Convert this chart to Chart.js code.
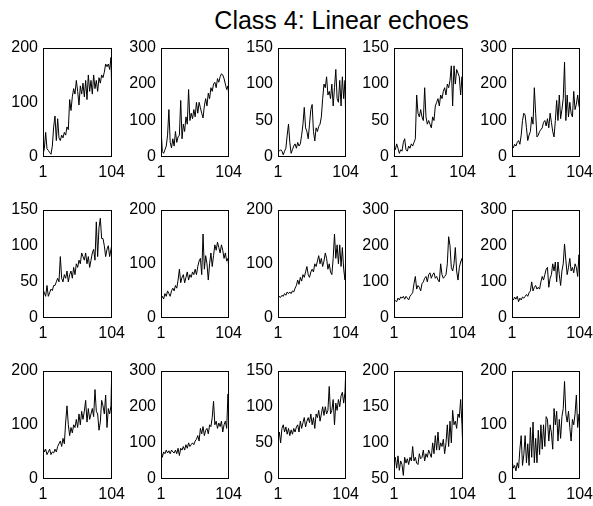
<!DOCTYPE html>
<html>
<head>
<meta charset="utf-8">
<script src="https://cdn.jsdelivr.net/npm/chart.js@4.4.1/dist/chart.umd.min.js"></script>
<style>
  body { margin: 0; background: #fff; }
  #wrap { position: relative; width: 593px; height: 506px; overflow: hidden; }
  #title { position: absolute; left: 0; width: 683px; top: 8px; text-align: center;
           font: 25px "Liberation Sans", Arial, sans-serif; line-height: 25px; color: #000; }
  canvas { position: absolute; }
</style>
</head>
<body>
<div id="wrap">
  <div id="title">Class 4: Linear echoes</div>
</div>
<script>
// sample positions (time index)
const xIdx = [1,3,5,7,9,11,13,15,17,19,21,23,25,27,29,31,33,35,37,39,41,43,45,47,49,51,
  53,55,57,59,61,63,65,67,69,71,73,75,77,79,81,83,85,87,89,91,93,95,97,99,101,103,104];

// series (row by row)
const r1c1 = [5,15,45,15,12,8,5,20,55,75,30,70,35,30,40,35,45,40,55,50,105,85,110,125,115,140,
  120,95,130,115,135,110,140,105,150,120,140,115,150,125,140,120,145,135,150,145,155,170,165,170,160,182,125];
const r1c2 = [80,15,10,20,30,60,130,40,25,50,30,70,40,55,60,155,50,90,70,110,90,185,100,120,105,130,
  110,150,120,150,135,120,107,140,160,140,175,160,190,180,200,205,190,215,205,220,228,225,215,200,185,195,170];
const r1c3 = [10,8,10,8,3,8,12,30,45,20,5,10,15,18,12,20,15,18,30,45,68,40,35,25,45,65,
  72,35,22,40,35,42,45,55,80,100,95,110,85,90,80,100,70,95,120,80,75,105,70,110,80,105,55];
const r1c4 = [15,10,18,12,5,10,8,20,25,10,8,15,12,18,15,20,25,85,60,55,65,55,50,95,55,45,
  50,45,40,55,50,70,75,80,70,85,80,90,95,85,100,95,105,125,70,125,100,120,115,110,85,110,95];
const r1c5 = [30,25,35,30,40,45,35,60,100,120,115,80,45,60,70,110,90,190,120,55,60,70,75,80,95,100,
  85,105,80,120,95,70,55,100,155,100,170,105,130,160,260,100,170,110,150,120,110,180,130,145,170,140,135];

const r2c1 = [40,35,30,45,30,35,40,38,45,45,50,55,50,85,55,50,60,55,65,50,60,65,55,70,60,75,
  70,80,75,90,85,80,90,75,85,70,80,90,95,80,133,85,125,138,110,110,100,85,95,100,85,95,100];
const r2c2 = [35,40,35,45,40,50,45,40,50,55,50,60,55,70,90,65,75,80,65,75,85,70,80,75,85,80,
  90,80,95,105,110,80,155,90,115,100,70,100,120,95,115,135,125,140,130,120,135,125,110,120,105,110,95];
const r2c3 = [35,40,38,42,40,45,42,48,45,48,45,50,48,55,60,70,62,75,68,80,75,85,95,80,75,85,
  90,85,100,95,105,115,100,110,95,105,120,110,90,100,85,80,110,155,110,135,100,135,95,130,90,70,110];
const r2c4 = [50,48,45,55,50,58,55,60,52,60,55,50,60,65,70,95,115,80,90,85,75,95,100,110,115,100,
  120,125,110,120,125,110,115,105,100,150,120,110,115,120,150,225,200,140,130,150,195,130,105,140,155,165,145];
const r2c5 = [55,50,58,52,60,45,55,50,58,55,60,65,60,70,75,100,75,85,90,80,85,80,100,115,105,120,
  135,140,85,110,120,150,130,155,100,155,120,90,130,150,205,160,120,140,165,130,140,125,150,140,115,175,120];

const r3c1 = [60,50,55,45,50,55,45,50,48,55,50,60,65,70,60,75,65,105,135,100,80,95,85,100,95,110,
  95,120,100,125,110,125,145,105,130,110,120,130,115,165,125,120,90,105,145,135,120,155,95,130,120,135,195];
const r3c2 = [80,60,75,70,80,72,78,70,80,75,72,80,70,85,65,85,80,90,80,95,85,100,90,95,100,95,
  105,110,120,105,140,125,145,120,135,140,125,150,145,170,215,150,160,140,155,145,160,130,150,160,140,235,180];
const r3c3 = [55,65,50,70,75,65,72,62,70,60,68,62,70,65,72,75,65,80,70,78,85,72,80,85,78,90,
  75,85,70,90,85,95,80,90,100,88,100,90,95,128,90,95,110,75,105,95,110,100,115,120,105,120,145];
const r3c4 = [76,80,65,82,62,75,70,55,80,72,78,70,80,75,95,75,80,72,70,85,78,80,90,75,85,80,
  90,85,80,100,85,110,90,115,90,100,95,105,85,100,125,95,130,100,145,125,130,120,140,135,160,125,100];
const r3c5 = [35,20,25,15,30,20,55,80,25,45,80,30,65,25,95,40,105,30,75,30,90,45,100,55,100,60,
  115,110,70,100,85,55,130,100,125,70,110,75,115,130,180,120,105,125,95,70,110,100,120,155,95,120,115];

// y axis ranges [min, max, step]
const yRanges = [
  [0,200,100],[0,300,100],[0,150,50],[0,150,50],[0,300,100],
  [0,150,50],[0,200,100],[0,200,100],[0,300,100],[0,300,100],
  [0,200,100],[0,300,100],[0,150,50],[50,200,50],[0,200,100]
];
const xTicks = [1, 104];

const series = [r1c1,r1c2,r1c3,r1c4,r1c5, r2c1,r2c2,r2c3,r2c4,r2c5, r3c1,r3c2,r3c3,r3c4,r3c5];

// panel boxes in the page
const colL = [43, 161, 278, 394, 512];
const colW = [70, 69, 69, 70, 69];
const rowT = [45, 207, 368];
const rowH = [112, 111, 111];

const FONT = '"Liberation Sans", Arial, sans-serif';
const PADL = 45, PADT = 12, PADR = 18, PADB = 30;

// draws the full box around the plot area
const boxPlugin = {
  id: 'box',
  afterDraw(chart) {
    const a = chart.chartArea, ctx = chart.ctx;
    ctx.save();
    ctx.strokeStyle = '#000';
    ctx.lineWidth = 1;
    ctx.strokeRect(Math.round(a.left) + 0.5, Math.round(a.top) + 0.5,
      Math.round(a.right - a.left) - 1, Math.round(a.bottom - a.top) - 1);
    ctx.restore();
  }
};

const wrap = document.getElementById('wrap');

series.forEach((vals, i) => {
  const r = Math.floor(i / 5), c = i % 5;
  const w = PADL + colW[c] + PADR, h = PADT + rowH[r] + PADB;
  const cv = document.createElement('canvas');
  cv.width = w; cv.height = h;
  cv.style.left = (colL[c] - PADL) + 'px';
  cv.style.top = (rowT[r] - PADT) + 'px';
  cv.style.width = w + 'px'; cv.style.height = h + 'px';
  wrap.appendChild(cv);

  const [ymin, ymax, ystep] = yRanges[i];

  new Chart(cv, {
    type: 'line',
    data: {
      datasets: [{
        data: xIdx.map((x, k) => ({ x: x, y: vals[k] })),
        borderColor: '#000',
        borderWidth: 1,
        pointRadius: 0,
        tension: 0,
        fill: false
      }]
    },
    options: {
      responsive: false,
      animation: false,
      devicePixelRatio: 1,
      layout: { padding: { left: 0, top: PADT, right: PADR, bottom: 0 } },
      plugins: { legend: { display: false }, tooltip: { enabled: false } },
      scales: {
        x: {
          type: 'linear', min: 1, max: 104,
          grid: { display: false, drawTicks: false },
          border: { display: false },
          afterBuildTicks: (s) => { s.ticks = xTicks.map(v => ({ value: v })); },
          afterFit: (s) => { s.height = PADB; },
          ticks: { autoSkip: false, maxRotation: 0, padding: 6, color: '#000',
                   font: { family: FONT, size: 16 } }
        },
        y: {
          min: ymin, max: ymax,
          grid: { display: false, drawTicks: false },
          border: { display: false },
          afterFit: (s) => { s.width = PADL; },
          ticks: { stepSize: ystep, padding: 5, color: '#000',
                   font: { family: FONT, size: 16 } }
        }
      }
    },
    plugins: [boxPlugin]
  });
});
</script>
</body>
</html>
